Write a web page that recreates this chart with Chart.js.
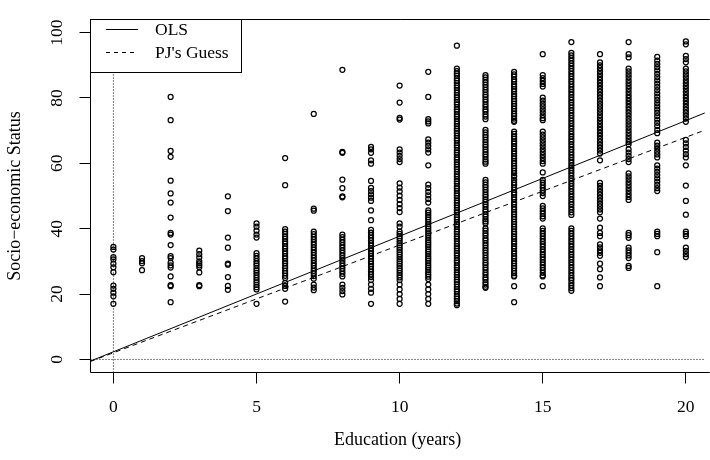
<!DOCTYPE html>
<html>
<head>
<meta charset="utf-8">
<title>Education and Socio-economic Status</title>
<script src="https://cdn.jsdelivr.net/npm/chart.js@4.4.0/dist/chart.umd.min.js"></script>
<style>
  html, body { margin: 0; padding: 0; background: #fff; overflow: hidden; }
</style>
</head>
<body>
<canvas id="my-chart" width="710" height="460"></canvas>
<script>
'use strict';

// ******** DATA *************************************
let educationYears = [0, 1, 2, 3, 4, 5, 6, 7, 8, 9, 10, 11, 12, 13, 14, 15, 16, 17, 18, 19, 20];

let ses0 = [34.4, 33.6, 31.3, 30.6, 29.3, 28.2, 26.7, 22.6, 21.6, 20.4, 19.3, 17.0];
let ses1 = [31.0, 30.1, 29.4, 27.3];
let ses2 = [80.3, 73.2, 63.8, 62.0, 54.7, 50.8, 48.0, 43.4, 38.7, 38.2, 35.0, 31.6, 31.0, 29.6, 28.8, 28.1, 25.4, 22.7, 22.4, 17.5];
let ses3 = [33.3, 32.2, 31.2, 30.0, 29.4, 28.8, 28.2, 26.6, 22.7, 22.4];
let ses4 = [49.9, 45.4, 37.3, 34.2, 29.3, 29.0, 25.2, 22.5, 21.3];
let ses5 = [41.6, 40.6, 39.4, 38.2, 37.3, 32.5, 31.7, 30.9, 30.1, 29.4, 28.7, 27.9, 27.2, 26.5, 25.8, 25.0, 24.3, 23.6, 22.8, 22.1, 21.4, 17.0];
let ses6 = [61.6, 53.3, 39.9, 39.1, 38.4, 37.6, 36.9, 36.1, 35.4, 34.6, 33.9, 33.1, 32.4, 31.6, 30.9, 30.1, 29.4, 28.6, 27.9, 27.1, 26.4, 25.6, 24.9, 23.4, 22.5, 21.6, 17.7];
let ses7 = [75.1, 46.1, 45.5, 39.1, 38.3, 37.5, 36.7, 35.9, 35.1, 34.3, 33.5, 32.7, 31.9, 31.1, 30.3, 29.5, 28.7, 27.9, 27.1, 26.3, 25.5, 24.7, 22.9, 22.0, 21.2];
let ses8 = [88.6, 63.5, 63.2, 55.0, 52.4, 49.9, 49.6, 38.2, 37.4, 36.6, 35.8, 35.0, 34.2, 33.4, 32.6, 31.8, 31.0, 30.2, 29.4, 28.6, 27.8, 27.0, 26.2, 25.4, 22.9, 21.9, 20.9, 19.9];
let ses9 = [65.0, 64.3, 63.2, 60.9, 59.9, 54.6, 52.5, 51.5, 50.5, 49.5, 48.5, 45.6, 42.6, 39.6, 38.8, 38.0, 37.2, 36.4, 35.6, 34.8, 34.0, 33.2, 32.4, 31.6, 30.8, 30.0, 29.2, 28.4, 27.6, 26.8, 26.0, 25.2, 24.3, 22.9, 21.6, 20.4, 17.0];
let ses10 = [83.8, 78.6, 73.9, 73.4, 64.3, 63.3, 62.3, 61.3, 60.4, 53.9, 52.6, 51.4, 50.1, 48.8, 47.5, 46.3, 45.1, 41.6, 40.6,
  39.1, 38.4, 37.7, 37.0, 36.3, 35.6, 34.9, 34.2, 33.5, 32.8, 32.1, 31.4, 30.7, 30.0, 29.3, 28.6, 27.9, 27.2, 26.5, 25.8, 25.1, 24.3,
  22.9, 21.4, 20.0, 18.5, 17.0];
let ses11 = [88.0, 80.3, 73.5, 72.8, 72.2, 67.3, 66.3, 65.3, 64.3, 63.3, 59.4, 53.5, 52.4, 51.3, 50.2, 49.1, 48.0,
  45.6, 44.9, 44.2, 43.5, 42.8, 42.1, 41.4, 40.7, 40.0, 39.3, 38.6, 37.9, 37.2, 36.5, 35.8, 35.1, 34.4, 33.7, 33.0, 32.3, 31.6,
  30.9, 30.2, 29.5, 28.8, 28.1, 27.4, 26.7, 26.0, 25.3, 24.6, 22.9, 21.4, 20.0, 18.5, 17.0];
let ses12 = [96.0, 89.0, 88.2, 87.5, 86.8, 86.0, 85.3, 84.6, 83.8, 83.1, 82.4, 81.6, 80.9, 80.2, 79.4, 78.7, 78.0, 77.2, 76.5,
  75.8, 75.0, 74.3, 73.6, 72.8, 72.1, 71.4, 70.6, 69.9, 69.2, 68.4, 67.7, 67.0, 66.2, 65.5, 64.8, 64.0, 63.3, 62.6, 61.8, 61.1,
  60.4, 59.6, 58.9, 58.2, 57.4, 56.7, 56.0, 55.2, 54.5, 53.8, 53.0, 52.3, 51.6, 50.8, 50.1, 49.4, 48.6, 47.9, 47.2, 46.4, 45.7,
  45.0, 44.2, 43.5, 42.8, 42.0, 41.3, 40.6, 39.8, 39.1, 38.4, 37.6, 36.9, 36.2, 35.4, 34.7, 34.0, 33.2, 32.5, 31.8, 31.0, 30.3,
  29.6, 28.8, 28.1, 27.4, 26.6, 25.9, 25.2, 24.4, 23.7, 23.0, 22.2, 21.5, 20.8, 20.0, 19.3, 18.6, 17.8, 17.1, 16.6];
let ses13 = [87.0, 86.3, 85.5, 84.8, 84.0, 83.3, 82.5, 81.8, 81.0, 80.3, 79.5, 78.8, 78.0, 77.3, 76.5, 75.8, 75.0, 74.3, 73.5,
  70.2, 69.5, 68.7, 68.0, 67.2, 66.5, 65.7, 65.0, 64.2, 63.5, 62.7, 62.0, 61.2, 60.5, 59.9,
  54.9, 54.2, 53.4, 52.7, 51.9, 51.2, 50.4, 49.7, 48.9, 48.2, 47.4, 46.7, 45.9, 45.2, 44.4, 43.7, 42.9, 42.2, 41.6,
  40.1, 39.4, 38.6, 37.9, 37.1, 36.4, 35.6, 34.9, 34.1, 33.4, 32.6, 31.9, 31.1, 30.4, 29.6, 28.9, 28.1, 27.4, 26.6, 25.9,
  25.1, 24.4, 23.6, 22.9, 22.2, 21.9];
let ses14 = [88.0, 87.2, 86.5, 85.7, 85.0, 84.2, 83.5, 82.7, 82.0, 81.2, 80.5, 79.7, 79.0, 78.2, 77.5, 76.7, 76.0, 75.2, 74.5,
  73.7, 73.0, 72.7, 69.7, 69.0, 68.2, 67.5, 66.7, 66.0, 65.2, 64.5, 63.7, 63.0, 62.2, 61.5, 60.7, 60.0, 59.2, 58.5, 57.7, 57.0,
  56.2, 55.9, 54.9, 54.1, 53.4, 52.6, 51.9, 51.1, 50.4, 49.6, 48.9, 48.1, 47.4, 46.6, 45.9, 45.1, 44.4, 43.6, 42.9, 42.1, 41.4,
  40.6, 39.9, 39.1, 38.4, 37.6, 36.9, 36.1, 35.4, 34.6, 33.9, 33.1, 32.4, 31.6, 30.9, 30.1, 29.4, 28.6, 27.9, 27.1, 26.4, 25.6,
  25.4, 22.4, 17.5];
let ses15 = [93.4, 87.0, 86.1, 85.2, 84.3, 83.5, 80.1, 79.2, 78.3, 77.4, 76.5, 75.6, 74.7, 73.8, 73.2, 69.7, 68.8, 67.9, 67.0,
  66.1, 65.2, 64.3, 63.4, 62.5, 61.6, 60.7, 59.9, 57.2, 54.9, 54.1, 53.3, 52.5, 51.7, 50.9, 50.0, 47.0, 46.2, 45.4, 44.6, 43.8,
  43.1, 40.1, 39.3, 38.5, 37.7, 36.9, 36.1, 35.3, 34.5, 33.7, 32.9, 32.1, 31.3, 30.5, 29.7, 28.9, 28.1, 27.3, 26.5, 25.7, 25.4,
  22.4];
let ses16 = [97.1, 93.8, 93.0, 92.2, 91.4, 90.6, 89.8, 89.0, 88.2, 87.4, 86.6, 85.8, 85.0, 84.2, 83.4, 82.6, 81.8, 81.0, 80.2,
  79.4, 78.6, 77.8, 77.0, 76.2, 75.4, 74.6, 73.8, 73.0, 72.2, 71.4, 70.6, 69.8, 69.0, 68.2, 67.4, 66.6, 65.8, 65.0, 64.2, 63.4,
  62.6, 61.8, 61.0, 60.2, 59.4, 58.6, 57.8, 57.0, 56.2, 55.4, 54.6, 53.8, 53.0, 52.2, 51.4, 50.6, 49.8, 49.0, 48.2, 47.4, 46.6,
  45.8, 45.0, 44.2, 40.1, 39.3, 38.5, 37.7, 36.9, 36.1, 35.3, 34.5, 33.7, 32.9, 32.1, 31.3, 30.5, 29.7, 28.9, 28.1, 27.3, 26.5,
  25.7, 24.9, 24.3, 23.4, 22.6, 21.8, 21.0];
let ses17 = [93.4, 90.9, 90.0, 89.1, 88.2, 87.3, 86.4, 85.5, 84.6, 83.7, 82.8, 81.9, 81.0, 80.1, 79.2, 78.3, 77.4, 76.5, 75.6,
  74.7, 73.8, 72.9, 72.0, 71.1, 70.2, 69.3, 68.4, 67.5, 66.6, 65.7, 64.8, 63.9, 63.0, 60.9, 54.0, 53.1, 52.2, 51.3, 50.4, 49.5,
  48.6, 47.7, 46.8, 45.9, 45.0, 43.1, 40.3, 38.7, 37.7, 35.2, 34.3, 33.4, 32.6, 31.7, 29.3, 27.6, 25.1, 22.4];
let ses18 = [97.1, 93.4, 92.4, 89.0, 88.1, 87.2, 86.3, 85.4, 84.5, 83.6, 82.7, 81.8, 80.9, 80.0, 79.1, 78.2, 77.3, 76.4, 75.5,
  74.6, 73.7, 72.8, 71.9, 71.0, 70.1, 69.2, 68.3, 67.4, 66.5, 65.8, 64.3, 63.3, 62.3, 61.3, 60.4, 56.9, 56.0, 55.1, 54.2, 53.3,
  52.4, 51.5, 50.6, 49.7, 48.8, 38.7, 38.0, 37.2, 34.2, 33.4, 32.6, 31.8, 31.0, 28.6, 28.0];
let ses19 = [92.6, 91.4, 90.4, 89.4, 88.4, 87.4, 86.4, 85.4, 84.4, 83.4, 82.4, 81.4, 80.4, 79.4, 78.4, 77.4, 76.4, 75.4, 74.4,
  73.4, 72.4, 71.4, 70.2, 69.2, 66.3, 65.4, 64.5, 63.6, 62.7, 61.8, 59.4, 58.4, 57.4, 56.4, 55.4, 54.4, 53.4, 52.4, 51.5,
  39.1, 38.4, 37.7, 32.8, 22.4];
let ses20 = [97.3, 96.4, 92.9, 91.9, 90.9, 89.0, 88.1, 87.2, 86.3, 85.4, 84.5, 83.6, 82.7, 81.8, 80.9, 80.0, 79.1, 78.2, 77.3,
  76.4, 75.5, 74.6, 73.7, 72.7, 67.2, 66.1, 65.0, 63.9, 62.8, 61.8, 59.4, 53.2, 48.5, 44.3, 39.1, 38.4, 37.7, 34.2, 33.2,
  32.2, 31.3];

let sesColumns = [ses0, ses1, ses2, ses3, ses4, ses5, ses6, ses7, ses8, ses9, ses10,
  ses11, ses12, ses13, ses14, ses15, ses16, ses17, ses18, ses19, ses20];

// fitted lines, read where they cross the left and right edges of the plot
let lineEndsX = [-0.8, 20.8];
let olsEndsY = [-0.5, 75.9];
let guessEndsY = [-0.6, 70.6];

let xTicks = [0, 5, 10, 15, 20];
let yTicks = [0, 20, 40, 60, 80, 100];

// ********* BUILD POINTS *************
let allPoints = [];
for (let i = 0; i < educationYears.length; i++) {
  for (let j = 0; j < sesColumns[i].length; j++) {
    allPoints.push({ x: educationYears[i], y: sesColumns[i][j] });
  }
}

let olsPoints = [];
let guessPoints = [];
for (let i = 0; i < lineEndsX.length; i++) {
  olsPoints.push({ x: lineEndsX[i], y: olsEndsY[i] });
  guessPoints.push({ x: lineEndsX[i], y: guessEndsY[i] });
}

// ********* LOOK **************
let serif = 'Liberation Serif, Times New Roman, serif';
let fontSize = 17.5;
let titleSize = 18;

// box round the plot and the legend in its top left corner
let framePlugin = {
  id: 'frame',
  afterDatasetsDraw(chart) {
    let ctx = chart.ctx;
    let area = chart.chartArea;
    ctx.save();
    ctx.strokeStyle = '#000';
    ctx.lineWidth = 1;
    ctx.beginPath();
    ctx.moveTo(area.right + 5, area.top);
    ctx.lineTo(area.left, area.top);
    ctx.lineTo(area.left, area.bottom);
    ctx.lineTo(area.right + 5, area.bottom);
    ctx.stroke();

    // legend
    let boxRight = 241.5;
    let boxBottom = 72.5;
    ctx.fillStyle = '#fff';
    ctx.fillRect(area.left, area.top, boxRight - area.left, boxBottom - area.top);
    ctx.strokeRect(area.left, area.top, boxRight - area.left, boxBottom - area.top);

    ctx.beginPath();
    ctx.moveTo(106, 29.5);
    ctx.lineTo(138, 29.5);
    ctx.stroke();
    ctx.setLineDash([4, 4]);
    ctx.beginPath();
    ctx.moveTo(106, 52.5);
    ctx.lineTo(138, 52.5);
    ctx.stroke();
    ctx.setLineDash([]);

    ctx.fillStyle = '#000';
    ctx.font = fontSize + 'px ' + serif;
    ctx.textBaseline = 'middle';
    ctx.textAlign = 'left';
    ctx.fillText('OLS', 155, 30);
    ctx.fillText('PJ\'s Guess', 155, 53);
    ctx.restore();
  }
};

// ********* CHART *************
let canvasElem = document.getElementById('my-chart');

new Chart(canvasElem, {
  type: 'scatter',
  data: {
    datasets: [
      {
        label: 'OLS',
        data: olsPoints,
        showLine: true,
        borderColor: '#000',
        borderWidth: 1,
        pointRadius: 0
      },
      {
        label: 'PJ\'s Guess',
        data: guessPoints,
        showLine: true,
        borderColor: '#000',
        borderWidth: 1,
        borderDash: [5, 4],
        pointRadius: 0
      },
      {
        label: 'zero line',
        data: [{ x: lineEndsX[0], y: 0 }, { x: lineEndsX[1], y: 0 }],
        showLine: true,
        borderColor: '#000',
        borderWidth: 1,
        borderDash: [1, 2],
        pointRadius: 0
      },
      {
        label: 'zero years',
        data: [{ x: 0, y: -4 }, { x: 0, y: 104 }],
        showLine: true,
        borderColor: '#000',
        borderWidth: 1,
        borderDash: [1, 2],
        pointRadius: 0
      },
      {
        label: 'people',
        data: allPoints,
        pointStyle: 'circle',
        pointRadius: 2.5,
        pointBorderWidth: 1.25,
        pointBorderColor: '#000',
        pointBackgroundColor: 'rgba(0,0,0,0)'
      }
    ]
  },
  options: {
    responsive: false,
    animation: false,
    events: [],
    layout: { padding: { top: 7.5, right: 0, bottom: 0, left: 0 } },
    plugins: {
      legend: { display: false },
      tooltip: { enabled: false }
    },
    scales: {
      x: {
        type: 'linear',
        min: -0.8,
        max: 20.66,
        afterBuildTicks(scale) { scale.ticks = xTicks.map(v => ({ value: v })); },
        afterFit(scale) { scale.height = 87.5; },
        border: { display: false },
        grid: { drawOnChartArea: false, drawTicks: true, tickLength: 11, color: '#000', lineWidth: 1 },
        ticks: { color: '#000', font: { family: serif, size: fontSize }, padding: 13, maxRotation: 0, autoSkip: false },
        title: { display: true, text: 'Education (years)', color: '#000', font: { family: serif, size: titleSize }, padding: { top: 0, bottom: 9 } }
      },
      y: {
        type: 'linear',
        min: -4,
        max: 104,
        afterBuildTicks(scale) { scale.ticks = yTicks.map(v => ({ value: v })); },
        afterFit(scale) { scale.width = 90.5; },
        border: { display: false },
        grid: { drawOnChartArea: false, drawTicks: true, tickLength: 11, color: '#000', lineWidth: 1 },
        ticks: { color: '#000', font: { family: serif, size: fontSize }, padding: 9, minRotation: 90, maxRotation: 90, crossAlign: 'center', autoSkip: false },
        title: { display: true, text: 'Socio\u2212economic Status', color: '#000', font: { family: serif, size: titleSize }, padding: { top: 4, bottom: 0 } }
      }
    }
  },
  plugins: [framePlugin]
});
</script>
</body>
</html>
